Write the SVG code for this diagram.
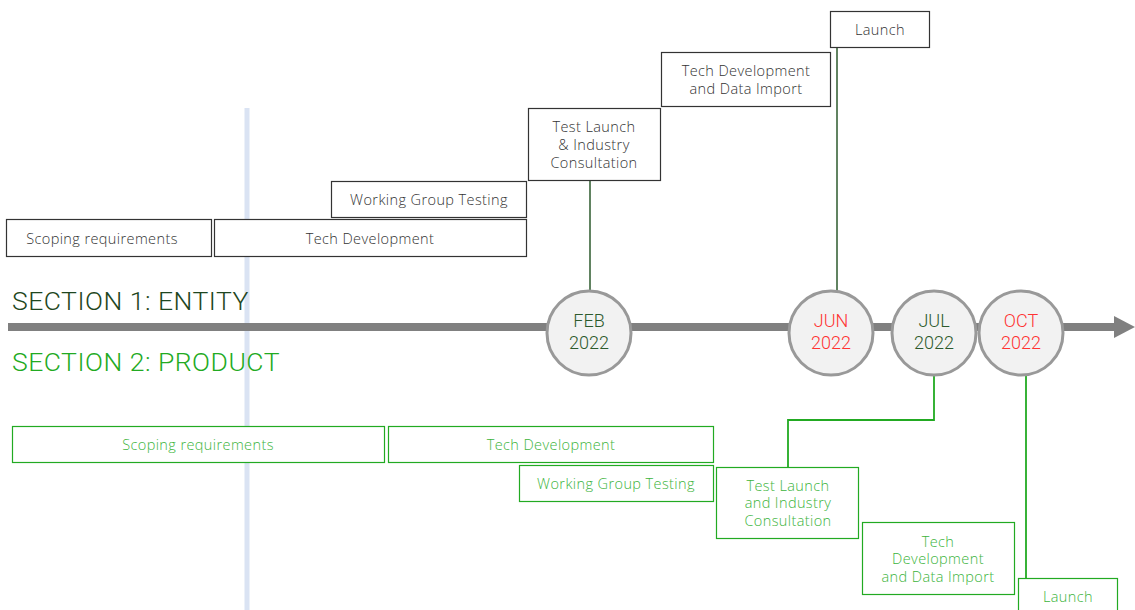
<svg xmlns="http://www.w3.org/2000/svg" width="1135" height="610" viewBox="0 0 1135 610">
<style>
.tb{fill:#fff;stroke:#333;stroke-width:1.2}
.bb{fill:#fff;stroke:#22aa22;stroke-width:1.2}
.tt{font-family:"Open Sans","Liberation Sans",sans-serif;font-size:14.5px;letter-spacing:0.4px;fill:#333;text-anchor:middle;font-weight:300}
.bt{font-family:"Open Sans","Liberation Sans",sans-serif;font-size:14.5px;letter-spacing:0.4px;fill:#3cb43c;text-anchor:middle;font-weight:300}
.circ{fill:#f2f2f2;stroke:#999;stroke-width:3}
.ct{font-family:Roboto,"Liberation Sans",sans-serif;font-size:18px;text-anchor:middle;font-weight:300}
.dg{fill:#2d5a2d}
.rd{fill:#ff3333}
.sec{font-family:Roboto,"Liberation Sans",sans-serif;font-size:26.5px;letter-spacing:0.5px;font-weight:300}
</style>
<rect width="1135" height="610" fill="#fff"/>
<line x1="247" y1="108" x2="247" y2="610" stroke="#dae3f3" stroke-width="5"/>
<g id="timeline">
<line x1="8" y1="327" x2="1116" y2="327" stroke="#808080" stroke-width="8"/>
<polygon points="1114,316 1135,327 1114,338" fill="#808080"/>
</g>
<text class="sec" x="12" y="310" fill="#1e4620">SECTION 1: ENTITY</text>
<text class="sec" x="12" y="371" fill="#22aa22">SECTION 2: PRODUCT</text>
<g id="connectors" fill="none">
<line x1="590" y1="181" x2="590" y2="292" stroke="#2d5a2d" stroke-width="1.5"/>
<line x1="837" y1="48" x2="837" y2="292" stroke="#2d5a2d" stroke-width="1.5"/>
<polyline points="934,375 934,420 788,420 788,467" stroke="#22aa22" stroke-width="1.8"/>
<line x1="1026" y1="375" x2="1026" y2="578" stroke="#22aa22" stroke-width="1.8"/>
</g>
<g id="t-scoping"><rect class="tb" x="6.5" y="219.5" width="205" height="37"/><text class="tt" x="102" y="244">Scoping requirements</text></g>
<g id="t-techdev"><rect class="tb" x="214.5" y="219.5" width="312" height="37"/><text class="tt" x="370" y="244">Tech Development</text></g>
<g id="t-wgt"><rect class="tb" x="331.5" y="181.5" width="195" height="36"/><text class="tt" x="429" y="205">Working Group Testing</text></g>
<g id="t-testlaunch"><rect class="tb" x="528.5" y="108.5" width="132" height="72"/><text class="tt" x="594" y="132">Test Launch</text><text class="tt" x="594" y="150">&amp; Industry</text><text class="tt" x="594" y="168">Consultation</text></g>
<g id="t-techdata"><rect class="tb" x="661.5" y="52.5" width="169" height="54"/><text class="tt" x="746" y="76">Tech Development</text><text class="tt" x="746" y="94">and Data Import</text></g>
<g id="t-launch"><rect class="tb" x="830.5" y="11.5" width="99" height="36"/><text class="tt" x="880" y="35">Launch</text></g>
<g id="m-feb"><circle class="circ" cx="589" cy="333" r="42"/><text class="ct dg" x="589" y="327">FEB</text><text class="ct dg" x="589" y="349">2022</text></g>
<g id="m-jun"><circle class="circ" cx="831" cy="333" r="42"/><text class="ct rd" x="831" y="327">JUN</text><text class="ct rd" x="831" y="349">2022</text></g>
<g id="m-jul"><circle class="circ" cx="934" cy="333" r="42"/><text class="ct dg" x="934" y="327">JUL</text><text class="ct dg" x="934" y="349">2022</text></g>
<g id="m-oct"><circle class="circ" cx="1021" cy="333" r="42"/><text class="ct rd" x="1021" y="327">OCT</text><text class="ct rd" x="1021" y="349">2022</text></g>
<g id="b-scoping"><rect class="bb" x="12.5" y="426.5" width="372" height="36"/><text class="bt" x="198" y="450">Scoping requirements</text></g>
<g id="b-techdev"><rect class="bb" x="388.5" y="426.5" width="325" height="36"/><text class="bt" x="551" y="450">Tech Development</text></g>
<g id="b-wgt"><rect class="bb" x="519.5" y="465.5" width="194" height="36"/><text class="bt" x="616" y="489">Working Group Testing</text></g>
<g id="b-testlaunch"><rect class="bb" x="716.5" y="467.5" width="142" height="71"/><text class="bt" x="788" y="491">Test Launch</text><text class="bt" x="788" y="508">and Industry</text><text class="bt" x="788" y="526">Consultation</text></g>
<g id="b-techdata"><rect class="bb" x="862.5" y="522.5" width="152" height="72"/><text class="bt" x="938" y="547">Tech</text><text class="bt" x="938" y="564">Development</text><text class="bt" x="938" y="582">and Data Import</text></g>
<g id="b-launch"><rect class="bb" x="1018.5" y="578.5" width="99" height="40"/><text class="bt" x="1068" y="602">Launch</text></g>
</svg>
